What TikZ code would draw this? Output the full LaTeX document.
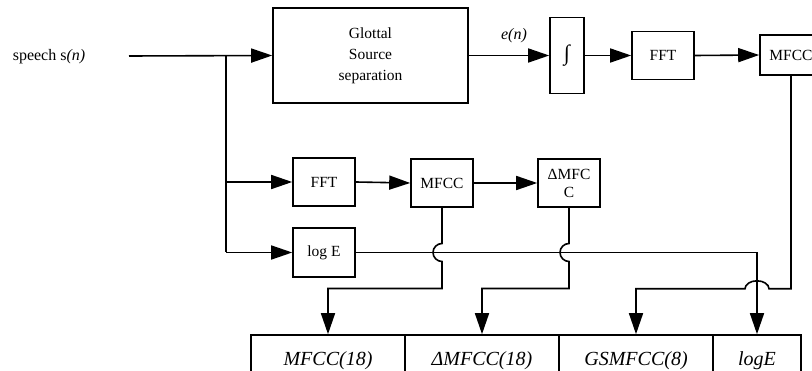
\documentclass[tikz,border=0pt]{standalone}
\usepackage{fontspec}
\setmainfont{Liberation Serif}
\usetikzlibrary{arrows.meta,calc}

\tikzset{
  blk/.style={draw, line width=1.6pt, inner sep=0pt, align=center,
    font=\fontsize{15.5}{21}\selectfont},
  cell/.style={draw, line width=1.6pt, inner sep=0pt, minimum height=52pt,
    font=\fontsize{20}{22}\selectfont\itshape},
  wire/.style={line width=1.6pt},
  arr/.style={wire, -{Triangle[length=21pt,width=14pt]}},
}

\begin{document}
\begin{tikzpicture}[x=1pt,y=1pt]
\useasboundingbox (0,0) rectangle (812,-371);
\clip (0,0) rectangle (812,-371);

% input label and branch point
\node[font=\fontsize{16}{18}\selectfont] (speech) at (49,-57) {speech s\textit{(n)}};
\coordinate (in) at (129,-56);
\coordinate (br) at (226,-56);

% upper chain
\node[blk, minimum width=195pt, minimum height=95pt] (glottal) at (370.5,-55.5)
  {Glottal\\Source\\separation};
\node[blk, minimum width=34pt, minimum height=76pt,
  font=\fontsize{22}{22}\selectfont] (integ) at (567,-55.5) {∫};
\node[blk, minimum width=62pt, minimum height=48pt] (fftA) at (663,-55.5) {FFT};
\node[blk, minimum width=62pt, minimum height=40pt] (mfccA) at (791,-55) {MFCC};
\node[font=\fontsize{16}{18}\selectfont\itshape] (en) at (514,-36) {e(n)};

% middle chain
\node[blk, minimum width=62pt, minimum height=48pt] (fftB) at (324,-182) {FFT};
\node[blk, minimum width=62pt, minimum height=48pt] (mfccB) at (442,-183) {MFCC};
\node[blk, minimum width=62pt, minimum height=48pt,
  font=\fontsize{15.5}{18}\selectfont] (dmfcc) at (569,-183) {ΔMFC\\C};
\node[blk, minimum width=62pt, minimum height=49pt] (loge) at (324,-252.5) {log E};

% output feature vector
\node[cell, minimum width=154pt] (c1) at (328,-361) {MFCC(18)};
\node[cell, minimum width=154pt] (c2) at (482,-361) {ΔMFCC(18)};
\node[cell, minimum width=154pt] (c3) at (636,-361) {GSMFCC(8)};
\node[cell, minimum width=88pt] (c4) at (757,-361) {logE};

% connections
\draw[arr] (in) -- (glottal.west);
\draw[arr] (br) |- (fftB.west);
\draw[wire] (br) -- (br |- loge.west);
\draw[arr] (br |- loge.west) -- (loge.west);
\draw[arr] (glottal.east) -- (integ.west);
\draw[arr] (integ.east) -- (fftA.west);
\draw[arr] (fftA.east) -- (mfccA.west);
\draw[arr] (fftB.east) -- (mfccB.west);
\draw[arr] (mfccB.east) -- (dmfcc.west);

% log-energy line
\draw[arr] (loge.east) -| (c4.north);

% MFCC and delta-MFCC lines hop over the log-energy line
\draw[arr] (mfccB.south) -- ($(mfccB.south |- loge.east)+(0,9)$)
  arc[start angle=90, end angle=270, radius=9pt]
  -- ($(mfccB.south |- loge.east)+(0,-36)$) -| (c1.north);
\draw[arr] (dmfcc.south) -- ($(dmfcc.south |- loge.east)+(0,9)$)
  arc[start angle=90, end angle=270, radius=9pt]
  -- ($(dmfcc.south |- loge.east)+(0,-36)$) -| (c2.north);

% glottal-source MFCC line hops over the log-energy drop
\coordinate (gs) at ($(mfccA.south)+(0,-213)$);
\draw[arr] (mfccA.south) -- (gs)
  -- ($(c4.north |- gs)+(12,0)$)
  arc[start angle=0, end angle=180, x radius=12pt, y radius=8pt]
  -| (c3.north);
\end{tikzpicture}
\end{document}
